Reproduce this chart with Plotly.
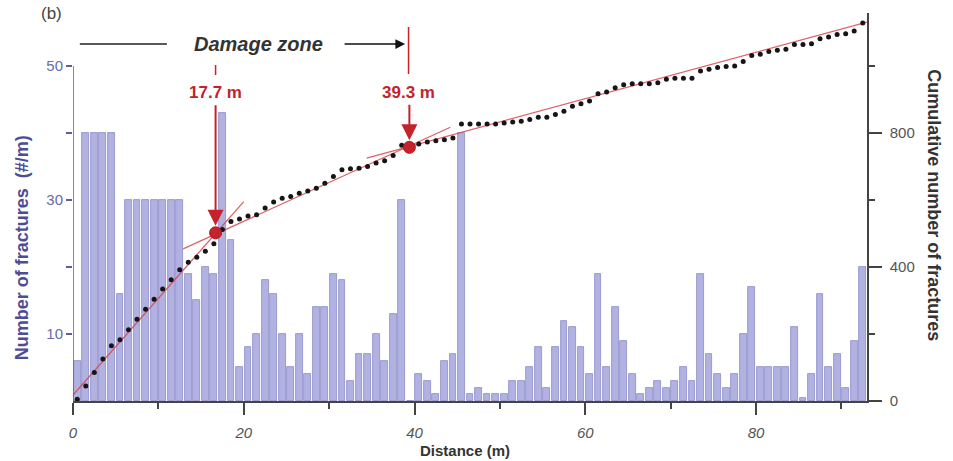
import plotly.graph_objects as go

# ---- data ----
distance_bins = [i + 0.5 for i in range(93)]
fractures_per_m = [6, 40, 40, 40, 40, 16, 30, 30, 30, 30, 30, 30, 30, 19, 15, 20, 19, 43, 24, 5,
                   8, 10, 18, 16, 10, 5, 10, 4, 14, 14, 19, 18, 3, 7, 7, 10, 6, 13, 30, 0,
                   4, 3, 1, 6, 7, 40, 1, 2, 1, 1, 1, 3, 3, 5, 8, 2, 8, 12, 11, 8,
                   4, 19, 5, 14, 9, 4, 1, 2, 3, 2, 3, 5, 3, 19, 7, 4, 2, 4, 10, 17,
                   5, 5, 5, 5, 11, 0.5, 4, 16, 5, 7, 2, 9, 20]
cumulative = [5, 45, 85, 125, 165, 183, 213, 244, 274, 304, 334, 362, 392, 414, 429, 447, 469, 512, 536, 543,
              552, 556, 576, 594, 605, 610, 620, 627, 635, 650, 670, 690, 693, 695, 700, 710, 717, 733, 763, 765,
              767, 773, 777, 780, 785, 827, 827, 827, 827, 827, 830, 833, 835, 840, 847, 847, 855, 865, 880, 887,
              895, 917, 922, 935, 944, 947, 947, 947, 950, 960, 963, 963, 963, 985, 990, 995, 998, 1000, 1013, 1031,
              1035, 1043, 1047, 1050, 1064, 1064, 1066, 1081, 1086, 1094, 1096, 1104, 1128]
fit1_x = [0, 20];     fit1_y = [18, 595]
fit2_x = [12.9, 44.2]; fit2_y = [454, 817]
fit3_x = [34.4, 93];  fit3_y = [725, 1131]
break_x = [16.7, 39.4]
break_y = [502, 757]
break_labels = ["17.7 m", "39.3 m"]

RED = "#c4222c"
FONT = "Liberation Sans"

fig = go.Figure()
fig.add_trace(go.Bar(x=distance_bins, y=fractures_per_m, width=0.8,
                     marker=dict(color="#b1b2e2", line=dict(color="#8b8cc6", width=0.8)),
                     yaxis="y", showlegend=False))
for fx, fy in [(fit1_x, fit1_y), (fit2_x, fit2_y), (fit3_x, fit3_y)]:
    fig.add_trace(go.Scatter(x=fx, y=fy, mode="lines", yaxis="y2",
                             line=dict(color="rgba(214,70,80,0.85)", width=1.3), showlegend=False))
fig.add_trace(go.Scatter(x=distance_bins, y=cumulative, mode="markers", yaxis="y2",
                         marker=dict(color="#151515", size=5), showlegend=False))
fig.add_trace(go.Scatter(x=break_x, y=break_y, mode="markers", yaxis="y2",
                         marker=dict(color=RED, size=12, line=dict(color="#b01820", width=1)),
                         showlegend=False, cliponaxis=False))

def py(p):  # pixel y -> paper y
    return (401 - p) / 388.0

shapes = [
    dict(type="line", xref="x", yref="y", x0=0, x1=0, y0=0, y1=50,
         line=dict(color="#5d5da2", width=1.5)),
    dict(type="line", xref="x", yref="paper", x0=0.8, x1=11.0, y0=py(44), y1=py(44),
         line=dict(color="#222", width=1.5)),
    dict(type="line", xref="x", yref="paper", x0=break_x[0], x1=break_x[0], y0=py(75), y1=py(65),
         line=dict(color=RED, width=1.5)),
    dict(type="line", xref="x", yref="paper", x0=39.3, x1=39.3, y0=py(74), y1=py(27),
         line=dict(color=RED, width=1.5)),
]

annotations = [
    dict(text="(b)", xref="paper", yref="paper", x=-0.027, y=py(14), showarrow=False,
         xanchor="center", yanchor="middle", font=dict(family=FONT, size=17, color="#444")),
    dict(text="<b><i>Damage zone</i></b>", xref="x", yref="paper", x=21.7, y=py(44), showarrow=False,
         xanchor="center", yanchor="middle", font=dict(family=FONT, size=20, color="#333")),
    dict(text="", xref="x", yref="paper", x=38.9, y=py(44), ax=-62, ay=0, showarrow=True,
         arrowhead=2, arrowsize=1.3, arrowwidth=1.5, arrowcolor="#111"),
    dict(text="<b>Number of fractures  (#/m)</b>", xref="paper", yref="paper", x=-0.064, y=py(248),
         xanchor="center", yanchor="middle",
         textangle=-90, showarrow=False, font=dict(family=FONT, size=18, color="#4d4d94")),
    dict(text="<b>Cumulative number of fractures</b>", xref="paper", yref="paper", x=1.084, y=py(205),
         xanchor="center", yanchor="middle",
         textangle=90, showarrow=False, font=dict(family=FONT, size=18, color="#333")),
    dict(text="<b>Distance (m)</b>", xref="paper", yref="paper", x=(465 - 73) / 794.0, y=py(450),
         xanchor="center", yanchor="middle", showarrow=False,
         font=dict(family=FONT, size=15, color="#333")),
]
for bx, lab in zip([16.7, 39.3], break_labels):
    annotations.append(dict(text="<b>" + lab + "</b>", xref="x", yref="paper",
                            x=bx, y=py(92), showarrow=False, xanchor="center", yanchor="middle",
                            font=dict(family=FONT, size=17, color=RED)))
markers_py = [234, 149]
for bx, by, mp in zip(break_x, break_y, markers_py):
    annotations.append(dict(text="", xref="x", yref="y2", x=bx, y=by, ax=0, ay=-(mp - 105),
                            showarrow=True, arrowhead=2, arrowsize=1.6, arrowwidth=2,
                            arrowcolor=RED, standoff=7))

fig.update_layout(
    width=953, height=461, paper_bgcolor="white", plot_bgcolor="white",
    margin=dict(l=73, r=86, t=13, b=60, autoexpand=False),
    bargap=0, font=dict(family=FONT),
    xaxis=dict(range=[0, 93], showline=True, linecolor="#444", linewidth=1.5, automargin=False,
               ticks="outside", ticklen=12, tickwidth=1.5, tickcolor="#444",
               dtick=20, tick0=0, showgrid=False, zeroline=False, ticklabelstandoff=5,
               minor=dict(dtick=10, ticks="outside", ticklen=6, tickcolor="#444", tickwidth=1.5),
               tickfont=dict(family=FONT, size=15, color="#555", style="italic")),
    yaxis=dict(range=[0, 57.9], showline=False, showgrid=False, zeroline=False, automargin=False,
               tickvals=[10, 20, 30, 40, 50], ticktext=["10", "", "30", "", "50"],
               ticks="outside", ticklen=6, tickwidth=1.5, tickcolor="#5d5da2",
               tickfont=dict(family=FONT, size=15, color="#6a6aaa")),
    yaxis2=dict(range=[0, 1158], overlaying="y", side="right", showline=True, automargin=False,
                linecolor="#444", linewidth=1.5, showgrid=False, zeroline=False,
                tickvals=[0, 400, 800], ticks="outside", ticklen=13, tickwidth=1.5, tickcolor="#444",
                ticklabelstandoff=5,
                minor=dict(tickvals=[200, 600, 1000], ticks="outside", ticklen=6,
                           tickcolor="#444", tickwidth=1.5),
                tickfont=dict(family=FONT, size=15, color="#555")),
    shapes=shapes, annotations=annotations,
)

fig.write_html("out.html", config={"displayModeBar": False},
               post_script="document.body.style.margin='0';")
